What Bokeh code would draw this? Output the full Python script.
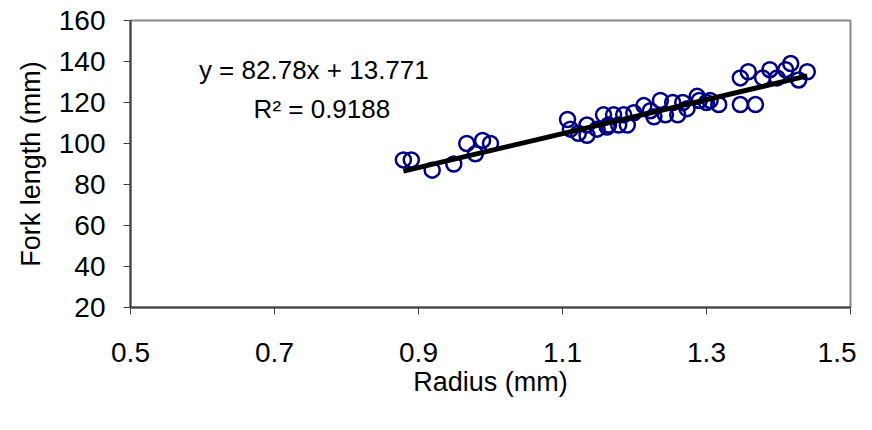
from bokeh.plotting import figure
from bokeh.models import Range1d, FixedTicker, Label, ColumnDataSource
from bokeh.embed import file_html
from bokeh.resources import INLINE

radius = [0.879, 0.89, 0.919, 0.949, 0.967, 0.979, 0.989, 1.0,
          1.107, 1.111, 1.122, 1.134, 1.134, 1.148, 1.157, 1.162, 1.164, 1.171,
          1.178, 1.185, 1.19, 1.199, 1.213, 1.222, 1.227, 1.236, 1.243, 1.253,
          1.26, 1.267, 1.273, 1.287, 1.3, 1.29, 1.305, 1.317,
          1.347, 1.347, 1.358, 1.368, 1.378, 1.388, 1.398, 1.41, 1.417, 1.428, 1.44]
fork_length = [92, 92, 87, 90, 100, 95, 101.5, 100,
               111.7, 107, 105, 109, 104, 107, 114, 108, 109, 114,
               109, 114, 109, 115, 118.5, 116, 113, 121, 114, 120,
               114, 120, 117, 123, 120, 121, 121, 119,
               132, 119, 135, 119, 132, 136, 132, 136, 139, 131, 135]

slope = 82.78
intercept = 13.771
r_squared = 0.9188

x_ticks = [0.5, 0.7, 0.9, 1.1, 1.3, 1.5]
y_ticks = [20, 40, 60, 80, 100, 120, 140, 160]

FONT = "Liberation Sans"

p = figure(width=856, height=414, output_backend="svg", toolbar_location=None,
           x_range=Range1d(0.5, 1.5), y_range=Range1d(20, 160),
           min_border_left=130, min_border_right=6, min_border_top=20,
           min_border_bottom=107)
p.xgrid.visible = False
p.ygrid.visible = False
p.outline_line_color = "#888888"
p.outline_line_width = 2
p.background_fill_color = "white"
p.border_fill_color = "white"

for ax in (p.xaxis[0], p.yaxis[0]):
    ax.axis_line_color = "#404040"
    ax.axis_line_width = 2
    ax.major_tick_line_color = "#404040"
    ax.major_tick_line_width = 1
    ax.major_tick_out = 7
    ax.major_tick_in = 0
    ax.minor_tick_out = 0
    ax.minor_tick_in = 0
    ax.major_label_text_font = FONT
    ax.major_label_text_font_size = "28px"
    ax.major_label_text_color = "black"
    ax.axis_label_text_font = FONT
    ax.axis_label_text_font_size = "27px"
    ax.axis_label_text_font_style = "normal"
    ax.axis_label_text_color = "black"

p.xaxis.ticker = FixedTicker(ticks=x_ticks)
p.yaxis.ticker = FixedTicker(ticks=y_ticks)
p.xaxis.major_label_overrides = {v: f"{v:.1f}" for v in x_ticks}
p.xaxis.axis_label = "Radius (mm)"
p.yaxis.axis_label = "Fork length (mm)"
p.xaxis.major_label_standoff = 28
p.yaxis.major_label_standoff = 18
p.xaxis.axis_label_standoff = 2
p.yaxis.axis_label_standoff = 10

src = ColumnDataSource(dict(x=radius, y=fork_length))
p.scatter("x", "y", source=src, size=15, marker="circle", fill_color=None,
          line_color="#000080", line_width=2.5)

x0, x1 = min(radius), max(radius)
p.line([x0, x1], [slope * x0 + intercept, slope * x1 + intercept],
       line_color="black", line_width=5)

p.add_layout(Label(x=0.595, y=136, text=f"y = {slope}x + {intercept}",
                   text_font=FONT, text_font_size="26px", text_baseline="middle",
                   text_color="black"))
p.add_layout(Label(x=0.671, y=116.6, text=f"R\u00b2 = {r_squared}",
                   text_font=FONT, text_font_size="26px", text_baseline="middle",
                   text_color="black"))

open("out.html", "w").write(file_html(p, INLINE))
